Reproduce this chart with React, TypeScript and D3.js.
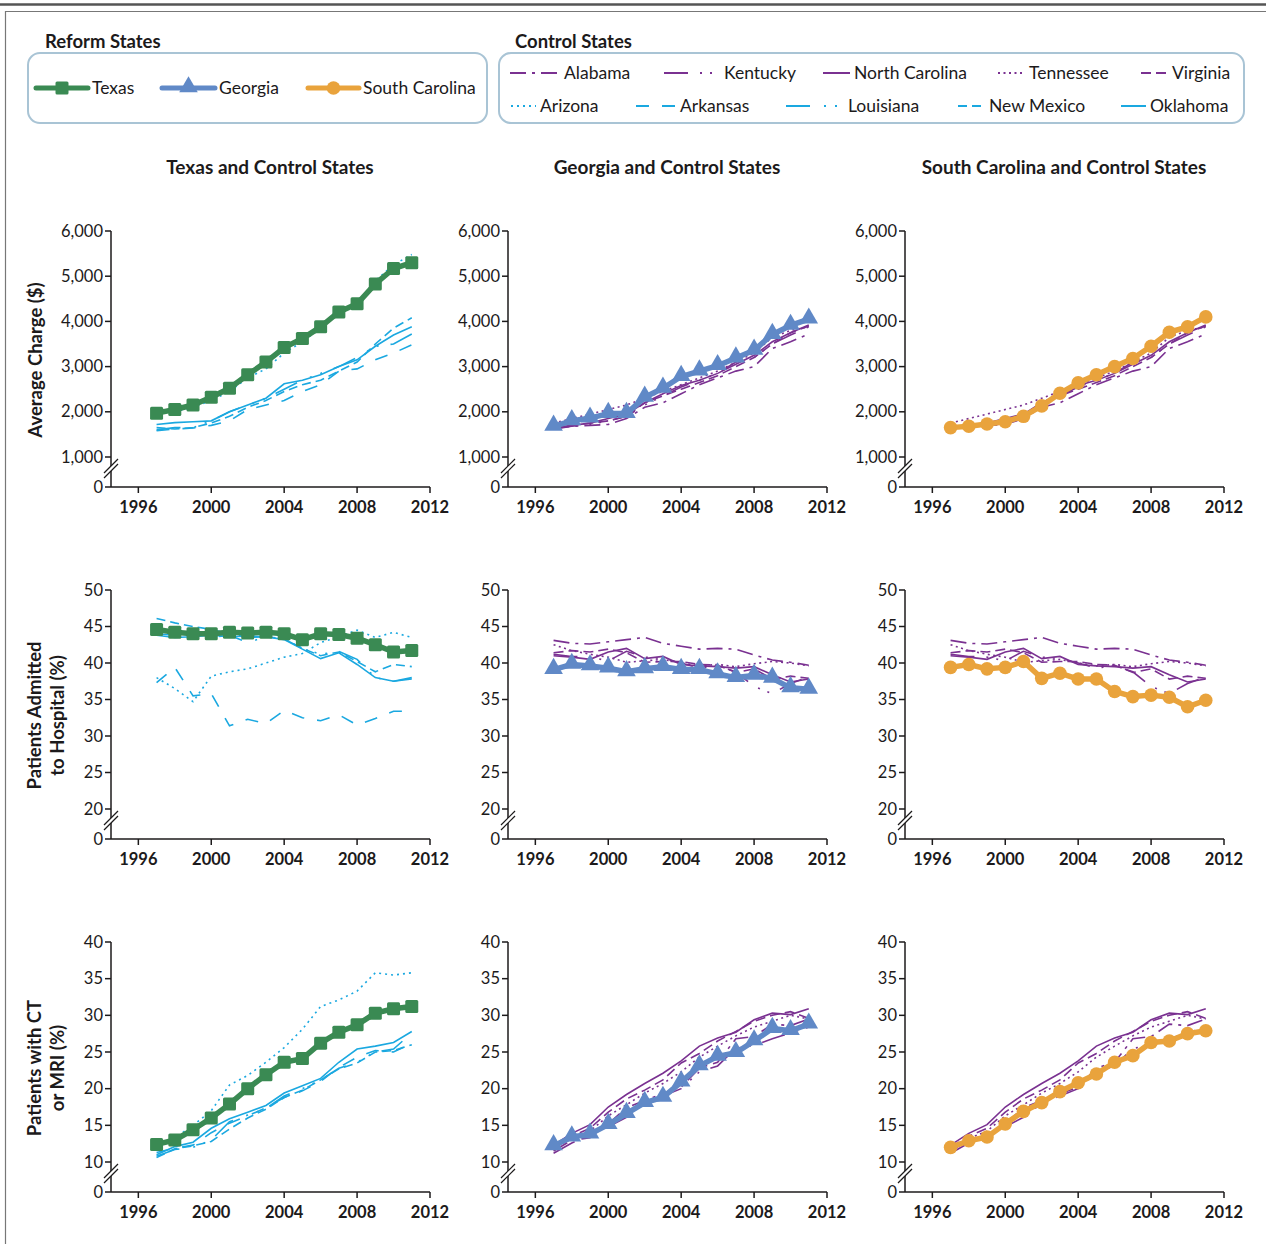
import React from 'react';
import * as d3 from 'd3';

// years of observation
const years = [1997, 1998, 1999, 2000, 2001, 2002, 2003, 2004, 2005, 2006, 2007, 2008, 2009, 2010, 2011];
const yearTicks = [1996, 2000, 2004, 2008, 2012];
const chargeTicks = [1000, 2000, 3000, 4000, 5000, 6000];
const admitTicks = [20, 25, 30, 35, 40, 45, 50];
const imagingTicks = [10, 15, 20, 25, 30, 35, 40];

// reform states
const texasCharge = [1970, 2050, 2150, 2320, 2520, 2820, 3100, 3420, 3620, 3880, 4210, 4390, 4830, 5170, 5300];
const texasAdmit = [44.6, 44.2, 44.0, 44.0, 44.2, 44.1, 44.2, 44.0, 43.2, 44.0, 43.9, 43.4, 42.5, 41.5, 41.7];
const texasImaging = [12.4, 13.0, 14.4, 16.0, 17.9, 20.0, 21.9, 23.6, 24.1, 26.2, 27.7, 28.7, 30.3, 30.9, 31.2];

const georgiaCharge = [1680, 1800, 1860, 1960, 1960, 2320, 2520, 2780, 2900, 3020, 3190, 3360, 3710, 3910, 4050];
const georgiaAdmit = [39.1, 39.8, 39.6, 39.3, 38.8, 39.2, 39.5, 39.1, 39.1, 38.5, 38.0, 38.3, 37.9, 36.6, 36.4];
const georgiaImaging = [12.2, 13.4, 13.8, 15.1, 16.6, 18.1, 18.8, 20.9, 23.1, 24.4, 24.9, 26.5, 28.2, 27.9, 28.8];

const scCharge = [1650, 1680, 1730, 1780, 1900, 2130, 2410, 2640, 2820, 3000, 3180, 3450, 3760, 3880, 4100];
const scAdmit = [39.4, 39.8, 39.2, 39.4, 40.2, 37.9, 38.6, 37.8, 37.8, 36.1, 35.4, 35.6, 35.3, 34.0, 34.9];
const scImaging = [12.0, 12.9, 13.4, 15.2, 16.9, 18.1, 19.6, 20.8, 22.0, 23.6, 24.5, 26.3, 26.5, 27.5, 27.9];

// control states for Georgia and South Carolina
const alabamaCharge = [1620, 1680, 1700, 1720, 1850, 2100, 2200, 2400, 2600, 2750, 2900, 3000, 3400, 3550, 3720];
const alabamaAdmit = [43.1, 42.7, 42.6, 42.9, 43.2, 43.5, 42.7, 42.3, 41.9, 42.0, 41.9, 41.1, 40.4, 40.1, 39.7];
const alabamaImaging = [11.5, 13.0, 13.3, 15.2, 17.4, 18.4, 19.3, 20.2, 22.8, 23.6, 26.8, 27.1, 28.8, 28.6, 29.5];

const kentuckyCharge = [1630, 1680, 1720, 1800, 1900, 2150, 2350, 2550, 2700, 2850, 3100, 3200, 3500, 3700, 3880];
const kentuckyAdmit = [41.2, 40.9, 40.8, 40.3, 41.6, 40.8, 40.6, 40.0, 39.3, 39.6, 38.8, 36.8, 35.8, 37.2, 38.1];
const kentuckyImaging = [11.2, 12.6, 13.6, 14.8, 16.1, 18.0, 19.0, 20.0, 22.3, 23.1, 25.5, 25.9, 26.8, 27.6, 28.4];

const northCarolinaCharge = [1650, 1700, 1750, 1850, 1950, 2200, 2400, 2580, 2700, 2850, 3050, 3250, 3550, 3750, 3920];
const northCarolinaAdmit = [41.0, 40.8, 40.5, 41.5, 42.0, 40.6, 40.9, 39.8, 39.6, 39.5, 39.3, 39.5, 38.4, 37.4, 37.8];
const northCarolinaImaging = [12.3, 13.9, 15.1, 17.5, 19.2, 20.7, 22.1, 23.8, 25.8, 26.9, 27.7, 29.4, 30.3, 30.1, 30.9];

const tennesseeCharge = [1750, 1850, 1950, 2050, 2150, 2300, 2450, 2600, 2750, 2900, 3100, 3300, 3650, 3800, 3880];
const tennesseeAdmit = [42.5, 41.7, 41.2, 40.8, 40.1, 40.3, 40.5, 40.0, 39.6, 39.8, 39.5, 39.9, 40.2, 40.0, 39.6];
const tennesseeImaging = [11.8, 13.2, 14.2, 16.3, 17.8, 19.4, 20.7, 22.3, 24.3, 25.8, 27.2, 28.4, 29.2, 30.0, 29.5];

const virginiaCharge = [1650, 1700, 1750, 1800, 1900, 2200, 2350, 2500, 2650, 2800, 3000, 3200, 3500, 3750, 3900];
const virginiaAdmit = [41.4, 41.7, 41.5, 41.9, 41.4, 40.1, 40.2, 40.2, 39.8, 39.7, 38.7, 39.2, 37.8, 38.2, 37.9];
const virginiaImaging = [12.0, 13.5, 14.6, 16.8, 18.6, 19.8, 21.2, 23.5, 24.8, 26.5, 27.8, 29.2, 30.0, 30.5, 29.6];

// control states for Texas
const arizonaCharge = [1960, 2000, 2100, 2250, 2450, 2750, 2950, 3300, 3550, 3850, 4200, 4400, 4900, 5250, 5480];
const arizonaAdmit = [38.0, 36.5, 34.7, 38.2, 38.8, 39.2, 40.0, 40.8, 41.3, 42.8, 43.6, 44.5, 43.5, 44.2, 43.5];
const arizonaImaging = [12.1, 13.3, 15.0, 17.0, 20.5, 21.8, 23.6, 25.6, 28.1, 31.2, 32.1, 33.3, 35.8, 35.5, 35.8];

const arkansasCharge = [1580, 1620, 1640, 1700, 1800, 2050, 2150, 2250, 2450, 2600, 2900, 2950, 3150, 3300, 3480];
const arkansasAdmit = [37.3, 39.4, 35.5, 35.8, 31.4, 32.3, 31.7, 33.5, 32.5, 32.1, 32.9, 31.5, 32.4, 33.4, 33.4];
const arkansasImaging = [11.3, 11.9, 12.3, 14.0, 15.3, 16.3, 17.4, 18.8, 19.7, 21.0, 22.9, 24.3, 25.2, 25.0, 26.2];

const louisianaCharge = [1600, 1650, 1650, 1800, 2000, 2150, 2300, 2500, 2700, 2850, 3000, 3200, 3450, 3500, 3720];
const louisianaAdmit = [44.0, 43.8, 43.3, 43.5, 43.8, 42.8, 43.6, 43.3, 42.0, 41.2, 41.6, 40.5, 38.0, 37.5, 38.0];
const louisianaImaging = [10.8, 11.7, 12.0, 13.0, 15.5, 16.4, 17.3, 19.0, 20.0, 21.2, 22.8, 23.6, 25.0, 25.4, 27.6];

const newMexicoCharge = [1650, 1620, 1650, 1750, 1900, 2100, 2250, 2450, 2600, 2700, 2900, 3100, 3500, 3850, 4080];
const newMexicoAdmit = [46.1, 45.5, 45.0, 44.6, 44.0, 43.5, 43.6, 43.3, 42.0, 41.0, 41.5, 40.2, 38.8, 39.8, 39.5];
const newMexicoImaging = [10.6, 11.8, 12.2, 12.8, 14.5, 16.0, 17.2, 18.8, 19.8, 21.2, 22.7, 23.5, 25.0, 25.2, 26.0];

const oklahomaCharge = [1720, 1760, 1780, 1800, 2000, 2150, 2300, 2620, 2700, 2820, 3000, 3150, 3450, 3700, 3880];
const oklahomaAdmit = [43.8, 43.5, 43.6, 43.8, 43.6, 43.7, 43.6, 43.2, 41.9, 40.6, 41.4, 39.8, 38.0, 37.5, 37.8];
const oklahomaImaging = [11.0, 12.1, 12.7, 14.6, 15.9, 16.8, 17.7, 19.4, 20.4, 21.4, 23.6, 25.4, 25.8, 26.3, 27.8];

const GREEN = '#3a8a53';
const BLUE = '#6089c7';
const ORANGE = '#e9a33c';
const PURPLE = '#7a3191';
const CYAN = '#1aa8e0';
const INK = '#1c1a1b';
const FONT = 'Lato, "Open Sans", sans-serif';

const DASH: Record<string, string> = {
  Alabama: '16,6,3,6',
  Kentucky: '24,12,2,8,2,12',
  'North Carolina': '',
  Tennessee: '2,3.5',
  Virginia: '10,5',
  Arizona: '2,4',
  Arkansas: '13,13',
  Louisiana: '24,14,2,9,2,12',
  'New Mexico': '9,5',
  Oklahoma: '',
};

const purpleStates = [
  { name: 'Alabama', data: [alabamaCharge, alabamaAdmit, alabamaImaging] },
  { name: 'Kentucky', data: [kentuckyCharge, kentuckyAdmit, kentuckyImaging] },
  { name: 'North Carolina', data: [northCarolinaCharge, northCarolinaAdmit, northCarolinaImaging] },
  { name: 'Tennessee', data: [tennesseeCharge, tennesseeAdmit, tennesseeImaging] },
  { name: 'Virginia', data: [virginiaCharge, virginiaAdmit, virginiaImaging] },
];
const cyanStates = [
  { name: 'Arizona', data: [arizonaCharge, arizonaAdmit, arizonaImaging] },
  { name: 'Arkansas', data: [arkansasCharge, arkansasAdmit, arkansasImaging] },
  { name: 'Louisiana', data: [louisianaCharge, louisianaAdmit, louisianaImaging] },
  { name: 'New Mexico', data: [newMexicoCharge, newMexicoAdmit, newMexicoImaging] },
  { name: 'Oklahoma', data: [oklahomaCharge, oklahomaAdmit, oklahomaImaging] },
];

const reform = [
  { name: 'Texas', title: 'Texas and Control States', color: GREEN, marker: 'square', data: [texasCharge, texasAdmit, texasImaging], controls: cyanStates, ccolor: CYAN },
  { name: 'Georgia', title: 'Georgia and Control States', color: BLUE, marker: 'triangle', data: [georgiaCharge, georgiaAdmit, georgiaImaging], controls: purpleStates, ccolor: PURPLE },
  { name: 'South Carolina', title: 'South Carolina and Control States', color: ORANGE, marker: 'circle', data: [scCharge, scAdmit, scImaging], controls: purpleStates, ccolor: PURPLE },
];

const rows = [
  { top: 231, bottom: 457, zero: 487, ticks: chargeTicks, fmt: d3.format(','), label: ['Average Charge ($)'] },
  { top: 590, bottom: 809, zero: 839, ticks: admitTicks, fmt: d3.format('d'), label: ['Patients Admitted', 'to Hospital (%)'] },
  { top: 942, bottom: 1162, zero: 1192, ticks: imagingTicks, fmt: d3.format('d'), label: ['Patients with CT', 'or MRI (%)'] },
];

const axisXs = [111, 508, 905];
const PLOT_W = 319;

function Marker({ type, cx, cy, color }: { type: string; cx: number; cy: number; color: string }) {
  if (type === 'square') return <rect x={cx - 6.5} y={cy - 6.5} width={13} height={13} rx={1.5} fill={color} />;
  if (type === 'circle') return <circle cx={cx} cy={cy} r={6.8} fill={color} />;
  const p = d3.symbol(d3.symbolTriangle, 150)() as string;
  return <path d={p} transform={`translate(${cx},${cy - 1})`} fill={color} />;
}

function Panel({ col, rowIdx }: { col: number; rowIdx: number }) {
  const row = rows[rowIdx];
  const st = reform[col];
  const ax = axisXs[col];
  const x = d3.scaleLinear().domain([1994.5, 2012]).range([ax, ax + PLOT_W]);
  const y = d3.scaleLinear().domain([row.ticks[0], row.ticks[row.ticks.length - 1]]).range([row.bottom, row.top]);
  const line = d3
    .line<number>()
    .x((_, i) => x(years[i]))
    .y(v => y(v));
  const b = row.bottom;
  return (
    <g>
      {/* control states */}
      {st.controls.map(c => (
        <path
          key={c.name}
          d={line(c.data[rowIdx]) as string}
          fill="none"
          stroke={st.ccolor}
          strokeWidth={1.6}
          strokeDasharray={DASH[c.name] || undefined}
        />
      ))}
      {/* reform state */}
      <path d={line(st.data[rowIdx]) as string} fill="none" stroke={st.color} strokeWidth={5.5} strokeLinejoin="round" />
      {st.data[rowIdx].map((v, i) => (
        <Marker key={i} type={st.marker} cx={x(years[i])} cy={y(v)} color={st.color} />
      ))}
      {/* axes */}
      <g stroke={INK} strokeWidth={1.5} fill="none">
        <line x1={ax} x2={ax} y1={row.top} y2={row.zero} />
        <line x1={ax - 6} x2={ax + PLOT_W} y1={row.zero} y2={row.zero} />
        {row.ticks.map(t => (
          <line key={t} x1={ax - 6} x2={ax} y1={y(t)} y2={y(t)} />
        ))}
        {yearTicks.map(t => (
          <line key={t} x1={x(t)} x2={x(t)} y1={row.zero} y2={row.zero + 6} />
        ))}
      </g>
      {/* axis break */}
      <rect x={ax - 2} y={b + 9} width={4} height={5} fill="#fff" />
      <g stroke={INK} strokeWidth={1.2}>
        <line x1={ax - 7} x2={ax + 7} y1={b + 16} y2={b + 2} />
        <line x1={ax - 7} x2={ax + 7} y1={b + 21} y2={b + 7} />
      </g>
      <g fontFamily={FONT} fontSize={16.5} fill={INK} textAnchor="end">
        {row.ticks.map(t => (
          <text key={t} x={ax - 8} y={y(t) + 5.5}>
            {row.fmt(t)}
          </text>
        ))}
        <text x={ax - 8} y={row.zero + 5.5}>
          0
        </text>
      </g>
      <g fontFamily={FONT} fontSize={16.5} fontWeight="bold" fill={INK} textAnchor="middle">
        {yearTicks.map(t => (
          <text key={t} x={x(t)} y={row.zero + 26}>
            {t}
          </text>
        ))}
      </g>
    </g>
  );
}

const reformLegend = [
  { x1: 36, x2: 88, tx: 92 },
  { x1: 162, x2: 215, tx: 219 },
  { x1: 308, x2: 359, tx: 363 },
];
const controlLegend = [
  { name: 'Alabama', color: PURPLE, x1: 510, x2: 560, y: 73 },
  { name: 'Kentucky', color: PURPLE, x1: 664, x2: 720, y: 73 },
  { name: 'North Carolina', color: PURPLE, x1: 823, x2: 850, y: 73 },
  { name: 'Tennessee', color: PURPLE, x1: 998, x2: 1025, y: 73 },
  { name: 'Virginia', color: PURPLE, x1: 1141, x2: 1168, y: 73 },
  { name: 'Arizona', color: CYAN, x1: 511, x2: 536, y: 106 },
  { name: 'Arkansas', color: CYAN, x1: 636, x2: 676, y: 106 },
  { name: 'Louisiana', color: CYAN, x1: 786, x2: 844, y: 106 },
  { name: 'New Mexico', color: CYAN, x1: 958, x2: 985, y: 106 },
  { name: 'Oklahoma', color: CYAN, x1: 1121, x2: 1146, y: 106 },
];

export default function App() {
  return (
    <div style={{ position: 'absolute', left: 0, top: 0 }}>
      <svg width={1266} height={1244} style={{ display: 'block', background: '#fff' }}>
        {/* frame */}
        <line x1={0} x2={1266} y1={4.5} y2={4.5} stroke="#555" strokeWidth={2.5} />
        <path d="M5.5,1244 V11.5 H1266" fill="none" stroke="#777" strokeWidth={1.2} />

        {/* legends */}
        <g fontFamily={FONT} fill={INK}>
          <text x={45} y={48} fontSize={18.5} fontWeight="bold">Reform States</text>
          <text x={515} y={48} fontSize={18.5} fontWeight="bold">Control States</text>
        </g>
        <rect x={28} y={53} width={459} height={70} rx={12} fill="none" stroke="#a9c4d5" strokeWidth={2} />
        <rect x={499} y={53} width={745} height={70} rx={12} fill="none" stroke="#a9c4d5" strokeWidth={2} />
        {reform.map((r, i) => {
          const L = reformLegend[i];
          const cx = (L.x1 + L.x2) / 2;
          return (
            <g key={r.name}>
              <line x1={L.x1} x2={L.x2} y1={88} y2={88} stroke={r.color} strokeWidth={5} strokeLinecap="round" />
              <Marker type={r.marker} cx={cx} cy={88} color={r.color} />
              <text x={L.tx} y={94} fontFamily={FONT} fontSize={17.5} fill={INK}>
                {r.name}
              </text>
            </g>
          );
        })}
        {controlLegend.map(c => (
          <g key={c.name}>
            <line x1={c.x1} x2={c.x2} y1={c.y} y2={c.y} stroke={c.color} strokeWidth={2} strokeDasharray={DASH[c.name] || undefined} />
            <text x={c.x2 + 4} y={c.y + 6} fontFamily={FONT} fontSize={17.5} fill={INK}>
              {c.name}
            </text>
          </g>
        ))}

        {/* column titles */}
        {reform.map((r, i) => (
          <text key={r.name} x={axisXs[i] + 159} y={174} textAnchor="middle" fontFamily={FONT} fontSize={19} fontWeight="bold" fill={INK}>
            {r.title}
          </text>
        ))}

        {/* row labels */}
        {rows.map((row, ri) => {
          const cy = (row.top + row.zero) / 2 + 1;
          const n = row.label.length;
          return (
            <g key={ri} fontFamily={FONT} fontSize={18.5} fontWeight="bold" fill={INK} textAnchor="middle">
              {row.label.map((t, li) => (
                <text key={li} transform={`translate(${n === 1 ? 42 : 41 + li * 23},${cy}) rotate(-90)`}>
                  {t}
                </text>
              ))}
            </g>
          );
        })}

        {rows.map((_, ri) => reform.map((__, ci) => <Panel key={`${ri}-${ci}`} col={ci} rowIdx={ri} />))}
      </svg>
    </div>
  );
}
